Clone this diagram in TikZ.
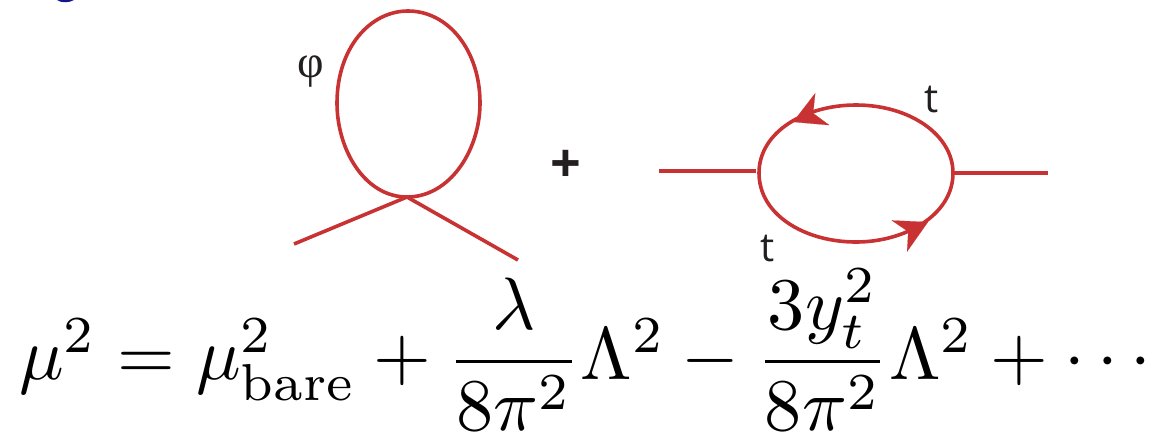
\documentclass[tikz,border=0pt]{standalone}
\usepackage{amsmath,amssymb}
\usepackage{fontspec}
\setsansfont{Open Sans}
\usepackage{tikz}
\usepackage{xcolor}
\usetikzlibrary{arrows.meta}
\definecolor{loopred}{RGB}{200,50,50}
\definecolor{labgray}{RGB}{35,31,32}
\definecolor{cutnavy}{RGB}{20,20,140}
\begin{document}
\begin{tikzpicture}[
  x=1pt,y=-1pt,
  line/.style={draw=loopred, line width=3.6pt},
  lab/.style={font=\sffamily\fontsize{40}{40}\selectfont, text=labgray, inner sep=0pt},
  headtip/.style={draw=loopred, line width=0.1pt, -{Stealth[length=32pt,width=35pt,inset=10pt,fill=loopred]}}
]
\useasboundingbox (0,0) rectangle (1158,432);
\fill[cutnavy] (57,0) .. controls (61,3) and (69,3) .. (74,0) -- cycle;
\coordinate (vert) at (407,197);
\coordinate (legl) at (294,244);
\coordinate (legr) at (518,260);
\coordinate (inl) at (659,171);
\coordinate (inr) at (756,171);
\coordinate (outl) at (953,173);
\coordinate (outr) at (1048,173);
\coordinate (topfrom) at (821.5,109.5);
\coordinate (topto) at (793,122);
\coordinate (botfrom) at (901.5,235);
\coordinate (botto) at (928,222);
% loop
\draw[line] (vert) .. controls (365,197) and (337,150) .. (337,103)
  .. controls (337,48) and (370,11) .. (408,11)
  .. controls (448,11) and (480,50) .. (480,103)
  .. controls (480,150) and (450,197) .. (vert);
\draw[line] (legl) -- (vert) -- (legr);
\draw[line] (inl) -- (inr);
\draw[line] (outl) -- (outr);
% fermion bubble
\draw[line] (759,173) .. controls (759,132) and (805,105) .. (856,105)
  .. controls (910,105) and (953,135) .. (953,173)
  .. controls (953,215) and (905,242) .. (856,242)
  .. controls (805,242) and (759,215) .. (759,173);
\draw[headtip] (topfrom) -- (topto);
\draw[headtip] (botfrom) -- (botto);
\node[lab, font=\fontspec{Liberation Serif}\fontsize{46}{46}\selectfont] (phi) at (311,72) {φ};
\node[lab, font=\sffamily\bfseries\fontsize{54}{54}\selectfont] (plus) at (566,166) {+};
\node[lab] (ttop) at (932,100) {t};
\node[lab] (tbot) at (768,249) {t};
\node[inner sep=0pt, anchor=west] (formula) at (19,350)
  {\resizebox{1144pt}{!}{$\mu^2=\mu_{\mathrm{bare}}^2+\dfrac{\lambda}{8\pi^2}\Lambda^2-\dfrac{3y_t^2}{8\pi^2}\Lambda^2+\cdots$}};
\end{tikzpicture}
\end{document}
